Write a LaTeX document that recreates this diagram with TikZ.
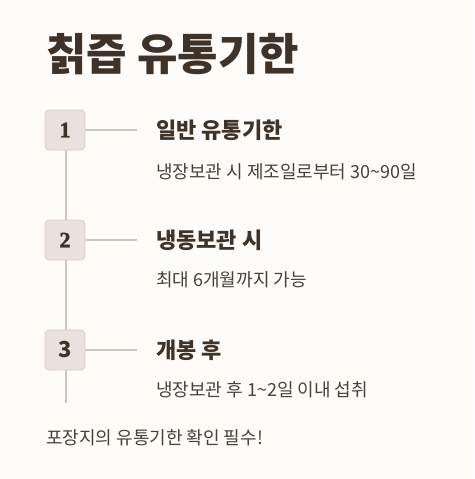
\documentclass[tikz,border=0pt]{standalone}
\usepackage{fontspec}
\setmainfont{Noto Sans CJK KR}
\newfontfamily\numfont{Liberation Serif}[UprightFont={* Bold}, FakeBold=1.8]
\usepackage{tikz}
\usetikzlibrary{positioning,calc}
\definecolor{bg}{HTML}{FFFBF8}
\definecolor{ink}{HTML}{3F3329}
\definecolor{softink}{HTML}{4A4039}
\definecolor{boxfill}{HTML}{EAE1DF}
\definecolor{boxline}{HTML}{D8CDCA}
\definecolor{rail}{HTML}{CEC4C1}

\begin{document}
\begin{tikzpicture}[x=1pt, y=-1pt,
    numbox/.style={rectangle, draw=boxline, fill=boxfill, line width=0.8pt, rounded corners=4pt, minimum width=40pt, minimum height=40pt, inner sep=0pt, text=ink},
    numtext/.style={font=\numfont\fontsize{22}{22}\selectfont},
    head/.style={anchor=west, inner sep=0pt, text=ink, font=\bfseries\fontsize{22}{26}\selectfont},
    desc/.style={anchor=west, inner sep=0pt, text=softink, font=\fontsize{18}{22}\selectfont},
    link/.style={draw=rail, line width=1.6pt}]

    % Background
    \fill[bg] (0,0) rectangle (474,479);
    \useasboundingbox (0,0) rectangle (474,479);

    % Title
    \node[anchor=west, inner sep=0pt, text=ink, font=\bfseries\fontsize{44}{48}\selectfont] (title) at (46,54) {칡즙 유통기한};

    % Rail
    \coordinate (railtop) at (66,130);
    \coordinate (railend) at (66,403);
    \draw[link] (railtop) -- (railend);

    % Step boxes
    \node[numbox, numtext] (one) at (65,130) {1};
    \node[numbox, numtext] (two) at (65,240) {2};
    \node[numbox, font=\bfseries\fontsize{22}{22}\selectfont] (three) at (65,350) {3};

    % Tick ends
    \coordinate (tone) at (137,130);
    \coordinate (ttwo) at (137,240);
    \coordinate (tthree) at (137,350);
    \draw[link] (one) -- (tone);
    \draw[link] (two) -- (ttwo);
    \draw[link] (three) -- (tthree);

    % Texts
    \node[head] (h1) at (156,130) {일반 유통기한};
    \node[desc] (d1) at (156,172) {냉장보관 시 제조일로부터 30\textasciitilde 90일};
    \node[head] (h2) at (156,240) {냉동보관 시};
    \node[desc] (d2) at (156,280) {최대 6개월까지 가능};
    \node[head] (h3) at (156,350) {개봉 후};
    \node[desc] (d3) at (156,390) {냉장보관 후 1\textasciitilde 2일 이내 섭취};

    % Footer
    \node[desc] (note) at (46,438) {포장지의 유통기한 확인 필수!};
\end{tikzpicture}
\end{document}
